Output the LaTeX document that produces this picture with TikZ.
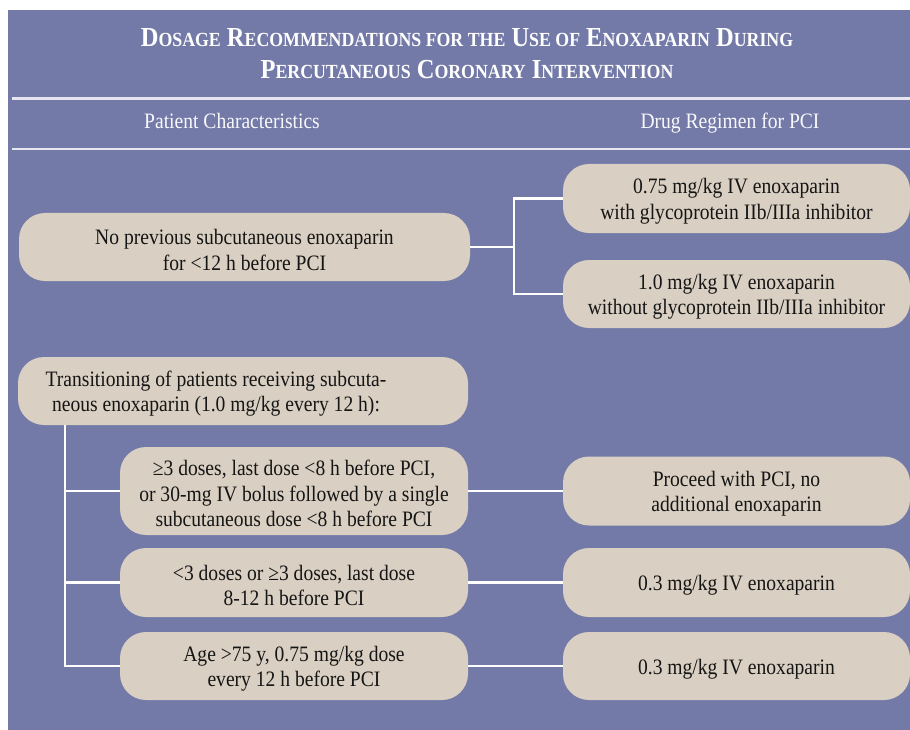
\documentclass[tikz,border=0pt]{standalone}
\usepackage{fontspec}
\setmainfont{Liberation Serif}[FakeStretch=0.89]
\definecolor{panel}{HTML}{737AA8}
\definecolor{boxc}{HTML}{D9CFC2}
\definecolor{rulec}{HTML}{E6E6F0}
\definecolor{ink}{HTML}{151515}
\newcommand\mysc[1]{{\fontsize{20}{21}\selectfont #1}}
\newcommand\topstrut{\rule{0pt}{21pt}}
\tikzset{
  boxnode/.style={fill=boxc, rounded corners=26pt, inner sep=0pt, align=center,
    text=ink, font=\fontsize{22}{25.5}\selectfont, minimum height=68pt},
  leftbox/.style={boxnode, minimum width=348pt},
  rightbox/.style={boxnode, minimum width=347pt},
  wideleft/.style={boxnode, minimum width=451pt},
  conn/.style={draw=white, line width=2.2pt},
  hdrrule/.style={draw=rulec, line width=2.4pt},
  titletext/.style={text=white, font=\bfseries\fontsize{27.5}{32}\selectfont, inner sep=0pt},
  hdrtext/.style={text=white!95!panel, font=\fontsize{22}{25}\selectfont, inner sep=0pt}
}
\begin{document}
\begin{tikzpicture}[x=1pt,y=-1pt]
\useasboundingbox (0,0) rectangle (910,730);
\fill[white] (0,0) rectangle (910,730);
\fill[panel] (8,10) rectangle (910,730);

% title
\node[titletext, anchor=base] (title1) at (467,47)
  {D\mysc{OSAGE} R\mysc{ECOMMENDATIONS FOR THE} U\mysc{SE OF} E\mysc{NOXAPARIN} D\mysc{URING}};
\node[titletext, anchor=base] (title2) at (467,79)
  {P\mysc{ERCUTANEOUS} C\mysc{ORONARY} I\mysc{NTERVENTION}};

% header rules and column heads
\coordinate (ra) at (12,98.5);
\coordinate (rb) at (910,98.5);
\coordinate (rc) at (12,149);
\coordinate (rd) at (910,149);
\draw[hdrrule] (ra) -- (rb);
\draw[hdrrule] (rc) -- (rd);
\node[hdrtext, anchor=base] (hl) at (232,129) {Patient Characteristics};
\node[hdrtext, anchor=base] (hr) at (730,129) {Drug Regimen for PCI};

% upper group
\node[wideleft] (n1) at (244.5,247) {\topstrut No previous subcutaneous enoxaparin\\for <12 h before PCI};
\node[rightbox, minimum height=69pt] (r1) at (736.5,198.5) {\topstrut 0.75 mg/kg IV enoxaparin\\with glycoprotein IIb/IIIa inhibitor};
\node[rightbox] (r2) at (736.5,294) {\topstrut 1.0 mg/kg IV enoxaparin\\without glycoprotein IIb/IIIa inhibitor};
\coordinate (j1) at (514,247);
\draw[conn] (n1.east) -- (j1);
\draw[conn] (r1.west) -| (j1);
\draw[conn] (r2.west) -| (j1);

% lower group
\node[boxnode, minimum width=450pt] (t) at (243,391) {};
\node[text=ink, font=\fontsize{22}{25.5}\selectfont, align=center, inner sep=0pt] (tl) at (216,391)
  {\topstrut Transitioning of patients receiving subcuta-\\neous enoxaparin (1.0 mg/kg every 12 h):};

\node[leftbox, minimum height=88pt] (a) at (294,491) {\topstrut ≥3 doses, last dose <8 h before PCI,\\or 30-mg IV bolus followed by a single\\subcutaneous dose <8 h before PCI};
\node[leftbox, minimum height=69pt] (b) at (294,582.5) {\topstrut <3 doses or ≥3 doses, last dose\\8-12 h before PCI};
\node[leftbox] (c) at (294,666) {\topstrut Age >75 y, 0.75 mg/kg dose\\every 12 h before PCI};

\node[rightbox, minimum height=69pt] (ra2) at (736.5,491) {\topstrut Proceed with PCI, no\\additional enoxaparin};
\node[rightbox, minimum height=69pt] (rb2) at (736.5,582.5) {\topstrut 0.3 mg/kg IV enoxaparin};
\node[rightbox] (rc2) at (736.5,666) {\topstrut 0.3 mg/kg IV enoxaparin};

\coordinate (s0) at (65,425);
\draw[conn] (s0) |- (c.west);
\draw[conn] (a.west) -- (a.west -| s0);
\draw[conn] (b.west) -- (b.west -| s0);
\draw[conn] (a.east) -- (ra2.west);
\draw[conn] (b.east) -- (rb2.west);
\draw[conn] (c.east) -- (rc2.west);
\end{tikzpicture}
\end{document}
